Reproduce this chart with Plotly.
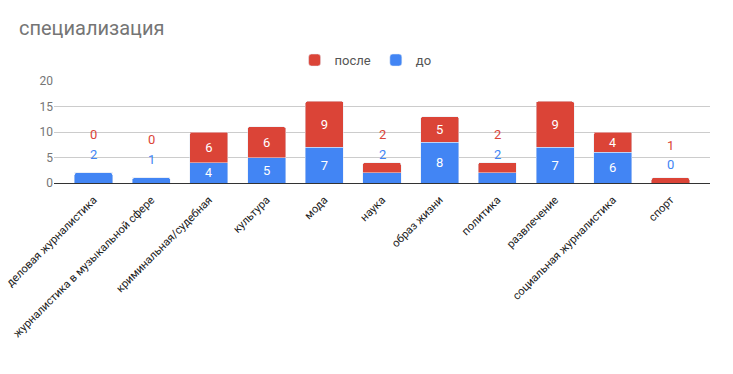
import plotly.graph_objects as go

categories = ["деловая журналистика", "журналистика в музыкальной сфере", "криминальная/судебная",
              "культура", "мода", "наука", "образ жизни", "политика", "развлечение",
              "социальная журналистика", "спорт"]
do_vals = [2, 1, 4, 5, 7, 2, 8, 2, 7, 6, 0]
posle_vals = [0, 0, 6, 6, 9, 2, 5, 2, 9, 4, 1]
y_ticks = [0, 5, 10, 15, 20]

BLUE = "#4285F4"
RED = "#DB4437"
FONT = "Roboto"

# small segments -> labels placed above the bar
outside = [min(d, p) < 3 for d, p in zip(do_vals, posle_vals)]

do_text = ["" if o else str(v) for v, o in zip(do_vals, outside)]
posle_text = ["" if o else str(v) for v, o in zip(posle_vals, outside)]

fig = go.Figure()
fig.add_trace(go.Bar(x=categories, y=do_vals, name="до", marker_color=BLUE,
                     text=do_text, textposition="inside", insidetextanchor="middle",
                     textangle=0, textfont=dict(color="white", size=13, family=FONT),
                     hoverinfo="skip"))
fig.add_trace(go.Bar(x=categories, y=posle_vals, name="после", marker_color=RED,
                     text=posle_text, textposition="inside", insidetextanchor="middle",
                     textangle=0, textfont=dict(color="white", size=13, family=FONT),
                     hoverinfo="skip"))

for c, d, p, o in zip(categories, do_vals, posle_vals, outside):
    if o:
        fig.add_annotation(x=c, y=d, text=str(d), showarrow=False, yshift=18.5,
                           font=dict(color=BLUE, size=13, family=FONT))
        fig.add_annotation(x=c, y=d, text=str(p), showarrow=False, yshift=38,
                           font=dict(color=RED, size=13, family=FONT))

fig.update_layout(
    width=733, height=374,
    margin=dict(l=54, r=23, t=81, b=191, autoexpand=False),
    barmode="stack", bargap=0.34, barcornerradius=2,
    plot_bgcolor="white", paper_bgcolor="white",
    font=dict(family=FONT, size=12, color="#222222"),
    title=dict(text="специализация", x=19 / 733, xanchor="left", y=1 - 28 / 374, yanchor="middle",
               font=dict(size=20, color="#757575", family=FONT)),
    legend=dict(orientation="h", x=0.475, xanchor="center", y=1.205, yanchor="middle",
                traceorder="reversed", font=dict(size=13, color="#555555", family=FONT),
                itemwidth=30),
    showlegend=True,
    xaxis=dict(range=[-0.685, 10.685], tickangle=-45, showgrid=False, ticks="",
               automargin=False, ticklabelstandoff=5,
               tickfont=dict(size=11.2, color="#222222", family=FONT),
               showline=True, linecolor="#333333", linewidth=1),
    yaxis=dict(range=[0, 20], tickvals=y_ticks, showgrid=True, gridcolor="#cccccc",
               automargin=False,
               zeroline=False, ticks="", tickfont=dict(size=12, color="#757575", family=FONT)),
)

fig.write_html("out.html", config={"displayModeBar": False},
               post_script="document.body.style.margin='0';document.body.style.overflow='hidden';")
